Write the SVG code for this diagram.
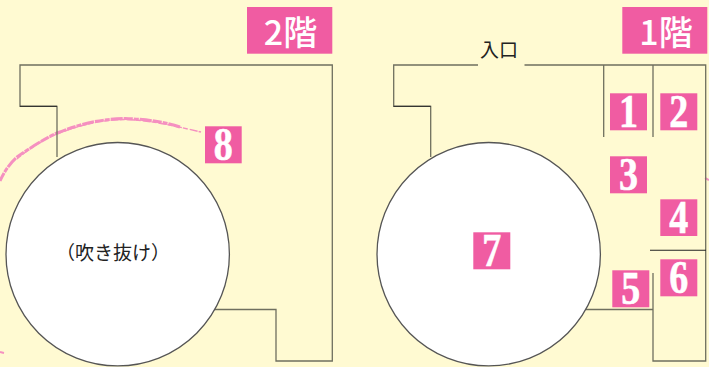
<svg xmlns="http://www.w3.org/2000/svg" width="709" height="367" viewBox="0 0 709 367">
<style>
.wall{fill:none;stroke:#6f6f5f;stroke-width:1.3}
.dark{fill:none;stroke:#222;stroke-width:1.1}
.void{fill:#fff;stroke:#555;stroke-width:1.3}
.tag{fill:#f05ca2}
.num{fill:#fff;stroke:#fff;stroke-width:.6;font-family:"Liberation Serif",serif;font-weight:700;font-size:46px;text-anchor:middle}
.floor{fill:#fff;font-family:"Noto Sans CJK JP",sans-serif;font-size:34px;font-weight:500;text-anchor:middle}
.lbl{fill:#222;font-family:"Noto Sans CJK JP",sans-serif;font-size:19px;text-anchor:middle}
.chalk{fill:none;stroke:#f590c0;stroke-linecap:butt}
</style>
<rect width="709" height="367" fill="#fffad2"/>
<g id="connectors">
<path class="chalk" stroke-width="3" stroke-dasharray="9 1 5 1 12 1" d="M0 181C4 172 10 163 17 157C30 148 44 139 57 133C80 124 100 119 125 118.500C145 119 165 122 180 127"/>
<path class="chalk" stroke-width="1.4" stroke-dasharray="5 2 8 1" d="M17 159C30 148 44 139 57 134C80 125 100 120 125 119.500C150 120 175 126 201 132"/>
<path class="chalk" stroke-width="2" d="M0 352L4 353M705 178L709 180"/>
</g>
<g id="floor2-walls">
<path class="wall" d="M57 157V106.300H20V65H332.300V361H276V309.500H214"/>
<path class="dark" d="M20 106.300H57"/>
</g>
<g id="floor1-walls">
<path class="wall" d="M478 65H393.700V106.300H430.700V157"/>
<path class="wall" d="M524.500 65H705.700V361H653V273"/>
<path class="dark" d="M393.700 106.300H430.700"/>
<path class="wall" d="M603.700 65V137M653 65V137M586 309.500H653"/>
<path class="dark" d="M650 250.300H706"/>
</g>
<g id="void-2f"><circle class="void" cx="117.700" cy="254.200" r="111.700"/><text class="lbl" x="113" y="260">（吹き抜け）</text></g>
<g id="void-1f"><circle class="void" cx="488.700" cy="254.200" r="111.700"/></g>
<g id="floor-2"><rect class="tag" x="247" y="7" width="85.300" height="46.700"/><text class="floor" x="290.500" y="45">2階</text></g>
<g id="floor-1"><rect class="tag" x="622.300" y="7" width="85" height="46.700"/><text class="floor" x="666" y="45">1階</text></g>
<g id="room-8"><rect class="tag" x="205" y="126.300" width="36.700" height="37"/><text class="num" x="223.300" y="160" textLength="19" lengthAdjust="spacingAndGlyphs">8</text></g>
<g id="room-1"><rect class="tag" x="610" y="93.300" width="37" height="37"/><text class="num" x="628.500" y="127" textLength="19" lengthAdjust="spacingAndGlyphs">1</text></g>
<g id="room-2"><rect class="tag" x="660.300" y="93.300" width="37" height="37"/><text class="num" x="678.800" y="127" textLength="19" lengthAdjust="spacingAndGlyphs">2</text></g>
<g id="room-3"><rect class="tag" x="610" y="156.300" width="37" height="37"/><text class="num" x="628.500" y="190" textLength="19" lengthAdjust="spacingAndGlyphs">3</text></g>
<g id="room-4"><rect class="tag" x="660.300" y="199.300" width="37" height="36.700"/><text class="num" x="678.800" y="233" textLength="19" lengthAdjust="spacingAndGlyphs">4</text></g>
<g id="room-5"><rect class="tag" x="612.300" y="270.300" width="37" height="37"/><text class="num" x="630.800" y="304" textLength="19" lengthAdjust="spacingAndGlyphs">5</text></g>
<g id="room-6"><rect class="tag" x="660.300" y="259.300" width="37" height="37"/><text class="num" x="678.800" y="293" textLength="19" lengthAdjust="spacingAndGlyphs">6</text></g>
<g id="room-7"><rect class="tag" x="473.300" y="232.300" width="37" height="37"/><text class="num" x="491.800" y="266" textLength="19" lengthAdjust="spacingAndGlyphs">7</text></g>
<g id="entrance"><text class="lbl" x="499" y="57">入口</text></g>
</svg>
